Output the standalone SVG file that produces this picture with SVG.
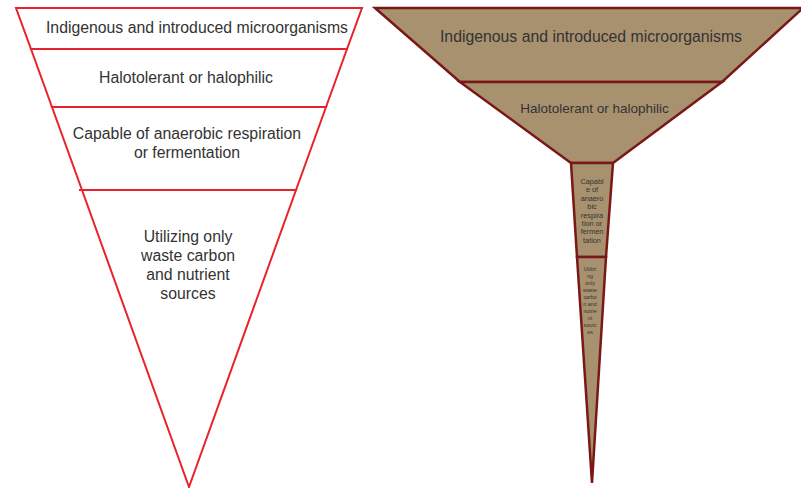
<svg xmlns="http://www.w3.org/2000/svg" width="801" height="488" viewBox="0 0 801 488">
<style>
.l{fill:#ffffff;stroke:#e8232b;stroke-width:2;stroke-linejoin:miter}
.r{fill:#a8916f;stroke:#7a1818;stroke-width:2.5;stroke-linejoin:miter}
text{font-family:"Liberation Sans",Arial,sans-serif;fill:#333333;text-anchor:middle}
.t16{font-size:15.8px}
.t13{font-size:13.5px}
.t7{font-size:7.3px}
.t5{font-size:5.3px}
</style>
<rect width="801" height="488" fill="#ffffff"/>
<g id="left-funnel">
<g id="l1"><polygon class="l" points="16,8 362,8 347,49 31,49"/><text class="t16" x="197" y="33">Indigenous and introduced microorganisms</text></g>
<g id="l2"><polygon class="l" points="31,49 347,49 326,107 52,107"/><text class="t16" x="186" y="83">Halotolerant or halophilic</text></g>
<g id="l3"><polygon class="l" points="52,107 326,107 296,190 82,190"/><text class="t16" x="187" y="139">Capable of anaerobic respiration</text><text class="t16" x="187" y="158">or fermentation</text></g>
<g id="l4"><polygon class="l" points="82,190 296,190 189,487"/><line class="l" x1="79" y1="190" x2="296" y2="190"/><text class="t16" x="188" y="242">Utilizing only</text><text class="t16" x="188" y="261">waste carbon</text><text class="t16" x="188" y="280">and nutrient</text><text class="t16" x="188" y="299">sources</text></g>
</g>
<g id="right-funnel">
<g id="r1"><polygon class="r" points="375,8 803,8 722,82 460,82"/><text class="t16" x="591" y="42">Indigenous and introduced microorganisms</text></g>
<g id="r2"><polygon class="r" points="460,82 722,82 613,163 571,163"/><text class="t13" x="594.5" y="113">Halotolerant or halophilic</text></g>
<g id="r3"><polygon class="r" points="571,163 613,163 606,257 577,257"/>
<text class="t7" x="592" y="184">Capabl</text><text class="t7" x="592" y="192.4">e of</text><text class="t7" x="592" y="200.8">anaero</text><text class="t7" x="592" y="209.2">bic</text><text class="t7" x="592" y="217.6">respira</text><text class="t7" x="592" y="226">tion or</text><text class="t7" x="592" y="234.4">fermen</text><text class="t7" x="592" y="242.8">tation</text></g>
<g id="r4"><polygon class="r" points="577,257 606,257 592,483"/>
<text class="t5" x="590" y="270.5">Utilizi</text><text class="t5" x="590" y="277.5">ng</text><text class="t5" x="590" y="284.5">only</text><text class="t5" x="590" y="291.5">waste</text><text class="t5" x="590" y="298.5">carbo</text><text class="t5" x="590" y="305.5">n and</text><text class="t5" x="590" y="312.5">nutrie</text><text class="t5" x="590" y="319.5">nt</text><text class="t5" x="590" y="326.5">sourc</text><text class="t5" x="590" y="333.5">es</text></g>
</g>
</svg>
